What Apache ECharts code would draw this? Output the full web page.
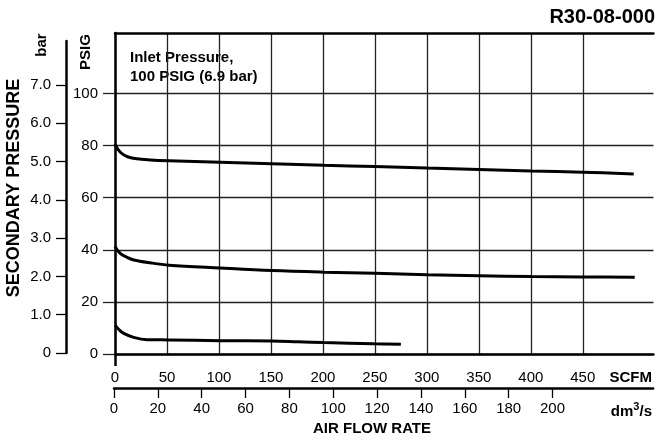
<!DOCTYPE html>
<html>
<head>
<meta charset="utf-8">
<script src="https://cdn.jsdelivr.net/npm/echarts@6/dist/echarts.min.js"></script>
<style>
html,body{margin:0;padding:0;background:#fff;}
#chart{width:655px;height:440px;}
</style>
</head>
<body>
<div id="chart"></div>
<script>
// ---- Data (PSIG vs SCFM) ----
var scfmTicks = [0, 50, 100, 150, 200, 250, 300, 350, 400, 450];
var scfmLabels = [0, 50, 100, 150, 200, 250, 300, 350, 400, 450, 500];
var dmTicks = [0, 20, 40, 60, 80, 100, 120, 140, 160, 180, 200];
var dmLabels = [0, 20, 40, 60, 80, 100, 120, 140, 160, 180, 200, 236];
var psigTicks = [0, 20, 40, 60, 80, 100];
var barTicks = [0, 1, 2, 3, 4, 5, 6, 7];

var curve80 = [[0,80.6],[3,78.4],[7,76.8],[12,75.7],[21,74.9],[34,74.5],[52,74.2],[101,73.6],[151,73.0],[201,72.4],[250,72.0],[300,71.4],[350,70.8],[400,70.2],[450,69.8],[499,69.1]];
var curve40 = [[0,41.3],[5,38.6],[11.6,37.1],[18,36.1],[34,35.0],[52,34.1],[101,33.0],[151,32.0],[201,31.4],[250,31.0],[300,30.4],[350,30.0],[400,29.7],[450,29.6],[500,29.5]];
var curve10 = [[0,11.1],[4,9.3],[8.4,7.9],[18,6.4],[31,5.5],[52,5.4],[101,5.1],[151,5.0],[176,4.7],[201,4.4],[249,3.9],[275,3.75]];

var FONT = '"Liberation Sans", Arial, Helvetica, sans-serif';
var chart = echarts.init(document.getElementById('chart'), null, {renderer: 'canvas'});

function lineSeries(d) {
  return {
    type: 'line', xAxisIndex: 0, yAxisIndex: 0, data: d,
    smooth: 0.35, symbol: 'none', silent: true,
    lineStyle: {color: '#000', width: 3}
  };
}

var option = {
  animation: false,
  backgroundColor: '#fff',
  textStyle: {fontFamily: FONT},
  grid: [
    {left: 115, right: 0, top: 33, bottom: 86},
    {left: 66, width: 1, top: 41, bottom: 87},
    {left: 114, right: 0, top: 387, height: 1}
  ],
  xAxis: [
    { // 0: SCFM main
      type: 'value', gridIndex: 0, position: 'bottom', min: 0, max: 518,
      axisLine: {show: true, lineStyle: {color: '#000', width: 2.5}},
      axisTick: {show: false, customValues: scfmTicks},
      splitLine: {show: true, lineStyle: {color: '#222', width: 1.3}},
      axisLabel: {
        customValues: scfmLabels, margin: 16, color: '#000', fontSize: 15, fontFamily: FONT,
        formatter: function (v) { return v === 500 ? '{b|SCFM}' : String(v); },
        rich: {b: {fontWeight: 'bold', fontSize: 15, fontFamily: FONT, color: '#000', padding: [0, 8, 0, 0]}}
      }
    },
    { // 1: top border
      type: 'value', gridIndex: 0, position: 'top', min: 0, max: 518,
      axisLine: {show: true, lineStyle: {color: '#000', width: 2.5}},
      axisTick: {show: false}, axisLabel: {show: false}, splitLine: {show: false}
    },
    { // 2: extension tick at 0
      type: 'value', gridIndex: 0, position: 'bottom', min: 0, max: 518,
      axisLine: {show: false},
      axisTick: {show: true, customValues: [0], length: 12, lineStyle: {color: '#000', width: 2.5}},
      axisLabel: {show: false}, splitLine: {show: false}
    },
    { // 3: dummy for bar grid
      type: 'value', gridIndex: 1, min: 0, max: 1, show: false
    },
    { // 4: dm3/s axis
      type: 'value', gridIndex: 2, position: 'bottom', min: 0, max: 245.9,
      axisLine: {show: true, lineStyle: {color: '#000', width: 2.5}},
      axisTick: {show: true, customValues: dmTicks, length: 10, lineStyle: {color: '#000', width: 1.3}},
      splitLine: {show: false},
      axisLabel: {
        customValues: dmLabels, margin: 13, color: '#000', fontSize: 15, fontFamily: FONT,
        formatter: function (v) { return v === 236 ? '{b|dm}{s|3}{b|/s}' : String(v); },
        rich: {
          b: {fontWeight: 'bold', fontSize: 15, fontFamily: FONT, color: '#000', lineHeight: 18, verticalAlign: 'bottom'},
          s: {fontWeight: 'bold', fontSize: 11, fontFamily: FONT, color: '#000', lineHeight: 18, verticalAlign: 'top'}
        }
      }
    }
  ],
  yAxis: [
    { // 0: PSIG
      type: 'value', gridIndex: 0, position: 'left', min: 0, max: 123.2,
      axisLine: {show: true, lineStyle: {color: '#000', width: 2.5}},
      axisTick: {show: true, customValues: psigTicks, length: 12, lineStyle: {color: '#222', width: 1.3}},
      splitLine: {show: true, lineStyle: {color: '#222', width: 1.3}},
      axisLabel: {customValues: psigTicks, margin: 17, color: '#000', fontSize: 15, fontFamily: FONT}
    },
    { // 1: bar
      type: 'value', gridIndex: 1, position: 'left', min: 0, max: 8.15,
      axisLine: {show: true, lineStyle: {color: '#000', width: 2.5}},
      axisTick: {show: true, customValues: barTicks, length: 10, lineStyle: {color: '#000', width: 1.3}},
      splitLine: {show: false},
      axisLabel: {
        customValues: barTicks, margin: 15, color: '#000', fontSize: 15, fontFamily: FONT,
        formatter: function (v) { return v === 0 ? '0' : v.toFixed(1); }
      }
    },
    { // 2: dummy for dm3/s grid
      type: 'value', gridIndex: 2, min: 0, max: 1, show: false
    }
  ],
  series: [lineSeries(curve80), lineSeries(curve40), lineSeries(curve10)],
  graphic: [
    {type: 'text', x: 655, y: 17, style: {text: 'R30-08-000', font: 'bold 20px ' + FONT, fill: '#000', textAlign: 'right', textVerticalAlign: 'middle'}},
    {type: 'text', x: 130, y: 48, style: {text: 'Inlet Pressure,\n100 PSIG (6.9 bar)', font: 'bold 15px ' + FONT, fill: '#000', lineHeight: 19, textAlign: 'left', textVerticalAlign: 'top'}},
    {type: 'text', x: 86, y: 52, rotation: Math.PI / 2, style: {text: 'PSIG', font: 'bold 15px ' + FONT, fill: '#000', textAlign: 'center', textVerticalAlign: 'middle'}},
    {type: 'text', x: 42, y: 45, rotation: Math.PI / 2, style: {text: 'bar', font: 'bold 15px ' + FONT, fill: '#000', textAlign: 'center', textVerticalAlign: 'middle'}},
    {type: 'text', x: 14, y: 188, rotation: Math.PI / 2, style: {text: 'SECONDARY PRESSURE', font: 'bold 18px ' + FONT, fill: '#000', textAlign: 'center', textVerticalAlign: 'middle'}},
    {type: 'text', x: 372, y: 429, style: {text: 'AIR FLOW RATE', font: 'bold 15px ' + FONT, fill: '#000', textAlign: 'center', textVerticalAlign: 'middle'}}
  ]
};
chart.setOption(option);
</script>
</body>
</html>
